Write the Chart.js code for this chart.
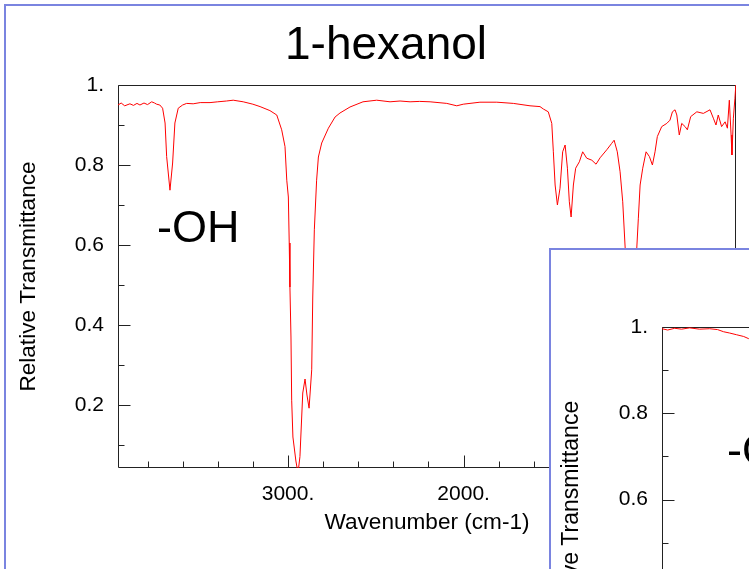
<!DOCTYPE html>
<html>
<head>
<meta charset="utf-8">
<script src="https://cdn.jsdelivr.net/npm/chart.js@4.4.0/dist/chart.umd.min.js"></script>
<style>
  html, body { margin: 0; padding: 0; width: 749px; height: 569px; overflow: hidden; background: #fff; }
  #slide { position: absolute; left: 4px; top: 4px; width: 900px; height: 700px;
           border-left: 2px solid #7a84e0; border-top: 2px solid #7a84e0; }
  #mainChart { position: absolute; left: 0; top: 0; }
  #insetBox { position: absolute; left: 549px; top: 248px; width: 300px; height: 400px;
              border-left: 2px solid #7a84e0; border-top: 2px solid #7a84e0;
              background: #fff; overflow: hidden; }
  #insetChart { position: absolute; left: 0; top: 0; }
</style>
</head>
<body>
<div id="slide"></div>
<canvas id="mainChart" width="749" height="569"></canvas>
<div id="insetBox"><canvas id="insetChart" width="800" height="560"></canvas></div>
<script>
// 1-hexanol IR spectrum
const mainWavenumber = [3968, 3950, 3930, 3900, 3880, 3860, 3843, 3820, 3800, 3776, 3760, 3748, 3730, 3714,
  3700, 3691, 3672, 3657, 3644, 3625, 3600, 3577, 3540, 3500, 3444, 3400, 3350, 3312, 3255, 3200, 3159,
  3103, 3064, 3036, 3017, 3007, 2998, 2993, 2989, 2983, 2979, 2972, 2955, 2943, 2932, 2916, 2903, 2892,
  2880, 2865, 2859, 2850, 2837, 2827, 2808, 2770, 2732, 2704, 2647, 2573, 2495, 2419, 2362, 2305, 2250,
  2191, 2096, 2039, 2002, 1907, 1811, 1717, 1622, 1565, 1546, 1518, 1498, 1489, 1479, 1466, 1451, 1436,
  1422, 1409, 1398, 1388, 1375, 1362, 1341, 1322, 1299, 1270, 1246, 1223, 1185, 1157, 1143, 1125, 1109,
  1094, 1080, 1058, 1040, 1014, 1005, 995, 980, 961, 942, 925, 910, 897, 872, 843, 825, 811, 796, 786,
  772, 758, 739, 726, 707, 672, 635, 597, 578, 563, 550, 531, 511, 498, 487, 477, 472, 464, 455, 450];
const mainTransmittance = [0.950, 0.955, 0.948, 0.953, 0.949, 0.954, 0.950, 0.955, 0.951, 0.958, 0.955,
  0.952, 0.950, 0.942, 0.905, 0.821, 0.737, 0.805, 0.905, 0.942, 0.950, 0.954, 0.953, 0.956, 0.956, 0.958,
  0.960, 0.962, 0.958, 0.952, 0.946, 0.936, 0.925, 0.888, 0.846, 0.762, 0.720, 0.605, 0.495, 0.370, 0.212,
  0.120, 0.060, 0.030, 0.071, 0.230, 0.265, 0.225, 0.192, 0.288, 0.470, 0.638, 0.762, 0.820, 0.855, 0.892,
  0.920, 0.930, 0.945, 0.958, 0.962, 0.958, 0.960, 0.958, 0.959, 0.958, 0.954, 0.948, 0.952, 0.957, 0.957,
  0.954, 0.948, 0.946, 0.940, 0.933, 0.904, 0.833, 0.750, 0.700, 0.742, 0.833, 0.850, 0.792, 0.708, 0.670,
  0.750, 0.792, 0.808, 0.833, 0.817, 0.812, 0.802, 0.818, 0.838, 0.854, 0.862, 0.833, 0.783, 0.708, 0.592,
  0.150, 0.200, 0.592, 0.667, 0.750, 0.792, 0.833, 0.821, 0.800, 0.833, 0.871, 0.896, 0.904, 0.912, 0.933,
  0.938, 0.925, 0.875, 0.904, 0.896, 0.888, 0.921, 0.933, 0.929, 0.938, 0.917, 0.900, 0.925, 0.896, 0.908,
  0.892, 0.962, 0.875, 0.825, 0.917, 0.967, 1.000];

// second slide peeking in at the lower right (only its top-left corner is visible)
const insetWavenumber = [3968, 3938, 3901, 3865, 3822, 3770, 3717, 3675, 3643, 3611, 3574, 3537, 3511, 3480];
const insetTransmittance = [0.996, 0.993, 0.997, 0.995, 0.998, 0.995, 0.996, 0.994, 0.989, 0.986, 0.982,
  0.978, 0.973, 0.968];

// axes
const yMajorTicks = [1, 0.8, 0.6, 0.4, 0.2];
const yMinorTicks = [0.9, 0.7, 0.5, 0.3, 0.1];
const xMajorTicks = [3000, 2000, 1000];
const xMinorTicks = [3800, 3600, 3400, 3200, 2800, 2600, 2400, 2200, 1800, 1600, 1400, 1200, 800, 600];

const FONT = '"Liberation Sans", Arial, sans-serif';

function toPoints(xs, ys) {
  return xs.map((x, i) => ({x: x, y: ys[i]}));
}

// plot frame with ticks pointing into the plot
const frameTicks = {
  id: 'frameTicks',
  beforeDatasetsDraw(chart, args, opts) {
    const {ctx, chartArea: a} = chart;
    const xs = chart.scales.x, ys = chart.scales.y;
    const L = Math.round(a.left) + 0.5, R = Math.round(a.right) - 0.5;
    const T = Math.round(a.top) + 0.5, B = Math.round(a.bottom) - 0.5;
    ctx.save();
    ctx.strokeStyle = '#222';
    ctx.lineWidth = 1;
    ctx.beginPath();
    ctx.rect(L, T, R - L, B - T);
    const yTick = (v, len) => {
      const p = Math.round(ys.getPixelForValue(v)) + 0.5;
      ctx.moveTo(L, p); ctx.lineTo(L + len, p);
    };
    const xTick = (v, len) => {
      const p = Math.round(xs.getPixelForValue(v)) + 0.5;
      ctx.moveTo(p, B); ctx.lineTo(p, B - len);
    };
    yMajorTicks.forEach(v => yTick(v, 12));
    yMinorTicks.forEach(v => yTick(v, 6));
    xMajorTicks.forEach(v => xTick(v, 12));
    xMinorTicks.forEach(v => xTick(v, 6));
    ctx.stroke();
    ctx.restore();
  }
};

// big "-OH" annotation placed in data coordinates
const peakLabel = {
  id: 'peakLabel',
  afterDatasetsDraw(chart, args, opts) {
    const {ctx} = chart;
    const px = chart.scales.x.getPixelForValue(opts.x);
    const py = chart.scales.y.getPixelForValue(opts.y);
    ctx.save();
    ctx.font = '45px ' + FONT;
    ctx.fillStyle = '#000';
    ctx.textAlign = 'left';
    ctx.textBaseline = 'middle';
    ctx.fillText(opts.text, px, py);
    ctx.restore();
  }
};

// slide title, centred on the slide rather than on the canvas
const slideTitle = {
  id: 'slideTitle',
  afterDraw(chart, args, opts) {
    if (!opts.text) return;
    const {ctx} = chart;
    ctx.save();
    ctx.font = '46px ' + FONT;
    ctx.fillStyle = '#000';
    ctx.textAlign = 'center';
    ctx.textBaseline = 'alphabetic';
    ctx.fillText(opts.text, opts.centerX, opts.baseline);
    ctx.restore();
  }
};

function makeOptions(cfg) {
  return {
    responsive: false,
    animation: false,
    layout: {padding: cfg.padding},
    plugins: {
      legend: {display: false},
      tooltip: {enabled: false},
      title: {display: false},
      slideTitle: cfg.title,
      peakLabel: cfg.label
    },
    scales: {
      x: {
        type: 'linear',
        reverse: true,
        min: 449,
        max: 3968,
        grid: {display: false, drawTicks: false},
        border: {display: false},
        afterFit: s => { s.height = cfg.xHeight; },
        afterBuildTicks: s => { s.ticks = xMajorTicks.map(v => ({value: v})); },
        ticks: {
          padding: 14,
          color: '#000',
          font: {family: FONT, size: 21},
          autoSkip: false,
          maxRotation: 0,
          callback: v => v + '.'
        },
        title: {
          display: true,
          text: 'Wavenumber (cm-1)',
          color: '#000',
          font: {family: FONT, size: cfg.axisTitleSize},
          padding: {top: 0, bottom: 33}
        }
      },
      y: {
        type: 'linear',
        min: cfg.yMin,
        max: 1,
        grid: {display: false, drawTicks: false},
        border: {display: false},
        afterFit: s => { s.width = cfg.yWidth; },
        afterBuildTicks: s => { s.ticks = yMajorTicks.map(v => ({value: v})); },
        ticks: {
          padding: 14,
          color: '#000',
          font: {family: FONT, size: 21},
          callback: v => (v === 1 ? '1.' : v.toFixed(1))
        },
        title: {
          display: true,
          text: 'Relative Transmittance',
          color: '#000',
          font: {family: FONT, size: cfg.axisTitleSize},
          padding: {top: cfg.yTitlePad, bottom: 0}
        }
      }
    }
  };
}

function spectrumDataset(xs, ys) {
  return {
    data: toPoints(xs, ys),
    borderColor: '#ff0000',
    borderWidth: 1,
    pointRadius: 0,
    showLine: true,
    tension: 0,
    fill: false
  };
}

new Chart(document.getElementById('mainChart'), {
  type: 'scatter',
  data: {datasets: [spectrumDataset(mainWavenumber, mainTransmittance)]},
  options: makeOptions({
    padding: {left: 0, top: 85, right: 13, bottom: 0},
    title: {text: '1-hexanol', centerX: 386, baseline: 59},
    label: {text: '-OH', x: 3746, y: 0.6375},
    xHeight: 101,
    yWidth: 118,
    yMin: 0.0425,
    axisTitleSize: 22.6,
    yTitlePad: 15
  }),
  plugins: [frameTicks, peakLabel, slideTitle]
});

new Chart(document.getElementById('insetChart'), {
  type: 'scatter',
  data: {datasets: [spectrumDataset(insetWavenumber, insetTransmittance)]},
  options: makeOptions({
    padding: {left: 0, top: 77, right: 22, bottom: 0},
    title: {text: ''},
    label: {text: '-OH', x: 3625, y: 0.71},
    xHeight: 101,
    yWidth: 111,
    yMin: 0.115,
    axisTitleSize: 23,
    yTitlePad: 7
  }),
  plugins: [frameTicks, peakLabel, slideTitle]
});
</script>
</body>
</html>
